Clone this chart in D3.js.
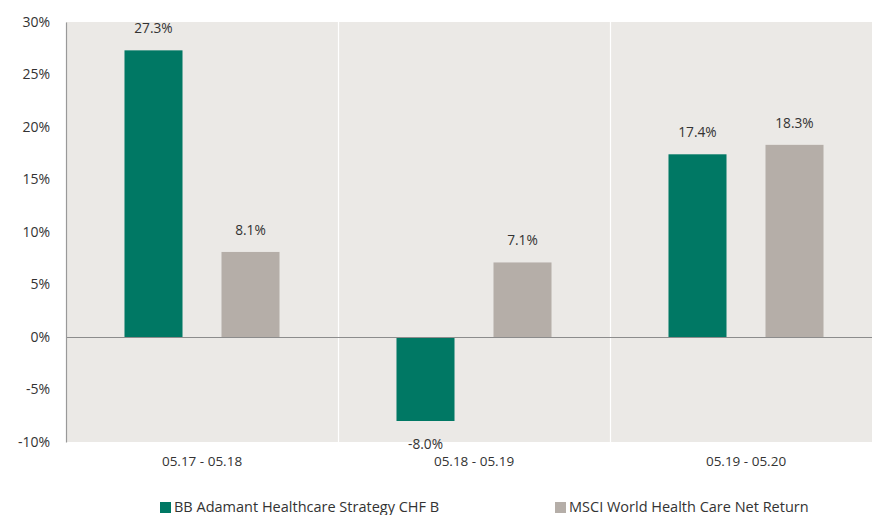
<!DOCTYPE html>
<html>
<head>
<meta charset="utf-8">
<script src="https://cdn.jsdelivr.net/npm/d3@7"></script>
<style>
  body { margin: 0; background: #fff; }
  svg text { font-family: "Open Sans", "Noto Sans", sans-serif; fill: #333; }
</style>
</head>
<body>
<div id="chart"></div>
<script>
const periods = ["05.17 - 05.18", "05.18 - 05.19", "05.19 - 05.20"];
const seriesNames = ["BB Adamant Healthcare Strategy CHF B", "MSCI World Health Care Net Return"];
const fundValues = [27.3, -8.0, 17.4];
const indexValues = [8.1, 7.1, 18.3];
const yTicks = [-10, -5, 0, 5, 10, 15, 20, 25, 30];
const colors = ["#007864", "#b5aea8"];

const width = 872;
const height = 515;
const marginLeft = 66;
const marginTop = 22;
const plotBottom = 442;

const rows = periods.map((p, i) => ({ period: p, values: [fundValues[i], indexValues[i]] }));

const svg = d3.select("#chart")
    .append("svg")
    .attr("width", width)
    .attr("height", height);

// Scales
const y = d3.scaleLinear()
    .domain([-10, 30])
    .range([plotBottom, marginTop]);

const x0 = d3.scaleBand()
    .domain(periods)
    .range([marginLeft, marginLeft + 272 * 3])
    .padding(0);

const x1 = d3.scaleBand()
    .domain([0, 1])
    .range([0, x0.bandwidth()])
    .paddingInner(0.402)
    .paddingOuter(0.603);

// Plot background
svg.append("rect")
    .attr("x", marginLeft)
    .attr("y", marginTop)
    .attr("width", width - marginLeft)
    .attr("height", plotBottom - marginTop)
    .attr("fill", "#ebe9e6");

// White separators between groups
svg.selectAll(".sep")
    .data(periods.slice(1))
    .enter()
    .append("line")
    .attr("class", "sep")
    .attr("x1", d => x0(d) + 0.5)
    .attr("x2", d => x0(d) + 0.5)
    .attr("y1", marginTop)
    .attr("y2", plotBottom)
    .attr("stroke", "#fff")
    .attr("stroke-width", 1.2);

// Bars
const groups = svg.selectAll(".group")
    .data(rows)
    .enter()
    .append("g")
    .attr("class", "group")
    .attr("transform", d => `translate(${x0(d.period)},0)`);

groups.selectAll("rect")
    .data(d => d.values.map((v, i) => ({ i, v })))
    .enter()
    .append("rect")
    .attr("x", d => x1(d.i))
    .attr("y", d => y(Math.max(0, d.v)))
    .attr("width", x1.bandwidth())
    .attr("height", d => Math.abs(y(d.v) - y(0)))
    .attr("fill", d => colors[d.i]);

groups.selectAll(".val")
    .data(d => d.values.map((v, i) => ({ i, v })))
    .enter()
    .append("text")
    .attr("class", "val")
    .attr("x", d => x1(d.i) + x1.bandwidth() / 2)
    .attr("y", d => d.v >= 0 ? y(d.v) - 17 : y(d.v) + 28)
    .attr("text-anchor", "middle")
    .style("font-size", "13.7px")
    .text(d => d.v.toFixed(1) + "%");

// Zero line
svg.append("line")
    .attr("x1", marginLeft)
    .attr("x2", width)
    .attr("y1", y(0) + 0.5)
    .attr("y2", y(0) + 0.5)
    .attr("stroke", "#8c8c8c")
    .attr("stroke-width", 1.2);

// Y axis
const yAxis = d3.axisLeft(y)
    .tickValues(yTicks)
    .tickSize(0)
    .tickPadding(16)
    .tickFormat(d => d + "%");

const yg = svg.append("g")
    .attr("transform", `translate(${marginLeft},0)`)
    .call(yAxis);
yg.select(".domain").attr("stroke", "#999").attr("stroke-width", 1.2);
yg.selectAll("text").style("font-size", "14px").attr("fill", "#333");

// X axis labels
const xAxis = d3.axisBottom(x0)
    .tickSize(0)
    .tickPadding(14);

const xg = svg.append("g")
    .attr("transform", `translate(0,${plotBottom})`)
    .call(xAxis);
xg.select(".domain").remove();
xg.selectAll("text").style("font-size", "13.5px").attr("fill", "#333");

// Legend
const legendX = [160, 555];
const legend = svg.selectAll(".legend")
    .data(seriesNames)
    .enter()
    .append("g")
    .attr("class", "legend")
    .attr("transform", (d, i) => `translate(${legendX[i]},508)`);

legend.append("rect")
    .attr("x", 0)
    .attr("y", -6)
    .attr("width", 11)
    .attr("height", 11)
    .attr("fill", (d, i) => colors[i]);

legend.append("text")
    .attr("x", 14)
    .attr("y", 4)
    .style("font-size", "14.5px")
    .text(d => d);
</script>
</body>
</html>
